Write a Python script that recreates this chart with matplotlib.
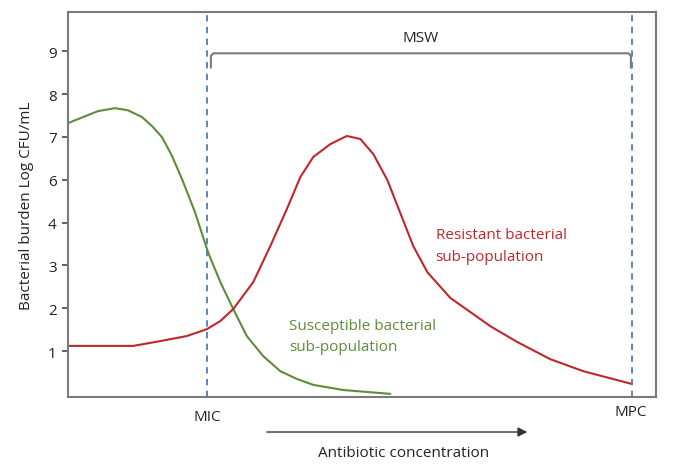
import matplotlib
matplotlib.use("Agg")
import matplotlib.pyplot as plt

# ---- data (x: relative antibiotic concentration 0-100, y: tick-position units) ----
green_x = [0, 2.9, 5.1, 8.0, 10.2, 12.6, 14.3, 16.0, 17.7, 19.4, 21.6, 23.8, 25.9, 28.1,
           30.4, 33.2, 36.1, 38.9, 41.7, 46.8, 54.8]
green_y = [6.32, 6.48, 6.60, 6.67, 6.62, 6.46, 6.25, 5.99, 5.55, 5.01, 4.24, 3.31, 2.61, 1.98,
           1.35, 0.88, 0.53, 0.35, 0.21, 0.09, 0.0]

red_x = [0, 11.1, 15.6, 20.2, 23.6, 25.9, 28.1, 31.5, 34.4, 37.2, 39.5, 41.7, 44.6, 47.4, 49.7,
         51.9, 54.3, 56.5, 58.7, 61.1, 65.0, 68.4, 71.8, 76.4, 82.0, 87.6, 95.9]
red_y = [1.12, 1.12, 1.23, 1.35, 1.51, 1.70, 1.98, 2.61, 3.45, 4.31, 5.06, 5.53, 5.83, 6.02, 5.95,
         5.60, 4.99, 4.22, 3.45, 2.84, 2.24, 1.91, 1.58, 1.21, 0.81, 0.53, 0.23]

ytick_pos = [1, 2, 3, 4, 5, 6, 7, 8]
ytick_labels = ['1', '2', '3', '4', '6', '7', '8', '9']

mic_x = 23.6
mpc_x = 95.9
bracket_left = 24.3
bracket_right = 95.7
bracket_top = 7.95
bracket_bottom = 7.62

RED = '#c0272d'
GREEN = '#5e8c3a'
BLUE = '#4a7ebb'
GRAY = '#7a7a7a'

plt.rcParams['font.family'] = ['Open Sans', 'DejaVu Sans']

fig = plt.figure(figsize=(6.73, 4.77), dpi=100)
ax = fig.add_axes([0.101, 0.1656, 0.874, 0.8074])

ax.plot(green_x, green_y, color=GREEN, lw=1.5, solid_joinstyle='round', solid_capstyle='round')
ax.plot(red_x, red_y, color=RED, lw=1.5, solid_joinstyle='round', solid_capstyle='round')

ax.axvline(mic_x, color=BLUE, lw=1.3, ls=(0, (3.5, 3)))
ax.axvline(mpc_x, color=BLUE, lw=1.3, ls=(0, (3.5, 3)))

# bracket
bx = [bracket_left, bracket_left, bracket_left + 0.4, bracket_right - 0.4, bracket_right, bracket_right]
by = [bracket_bottom, bracket_top - 0.06, bracket_top, bracket_top, bracket_top - 0.06, bracket_bottom]
ax.plot(bx, by, color='#7a7a7a', lw=1.5)
ax.text((bracket_left + bracket_right) / 2, 8.32, 'MSW', ha='center', va='center', fontsize=11, color='#222222')

ax.set_xlim(0, 100)
ax.set_ylim(-0.073, 8.917)
ax.set_xticks([])
ax.set_yticks(ytick_pos)
ax.set_yticklabels(ytick_labels, fontsize=11, color='#222222')
ax.tick_params(axis='y', length=4, width=1.2, color='#444444', direction='out', pad=4)
for s in ax.spines.values():
    s.set_color(GRAY)
    s.set_linewidth(1.5)

ax.set_ylabel('Bacterial burden Log CFU/mL', fontsize=11, color='#222222', labelpad=10)

ax.text(62.5, 3.47, 'Resistant bacterial\nsub-population', color=RED, fontsize=11,
        ha='left', va='center', linespacing=1.6)
ax.text(37.6, 1.35, 'Susceptible bacterial\nsub-population', color=GREEN, fontsize=11,
        ha='left', va='center', linespacing=1.6)

ax.text(mic_x, -0.52, 'MIC', ha='center', va='center', fontsize=11, color='#222222', clip_on=False)
ax.text(95.6, -0.42, 'MPC', ha='center', va='center', fontsize=11, color='#222222', clip_on=False)

ax.annotate('', xy=(78.1, -0.89), xytext=(33.8, -0.89), xycoords='data', annotation_clip=False,
            arrowprops=dict(arrowstyle='-|>', color='#333333', lw=1.0, mutation_scale=14,
                            shrinkA=0, shrinkB=0))
ax.text(57.0, -1.36, 'Antibiotic concentration', ha='center', va='center', fontsize=11,
        color='#222222', clip_on=False)

fig.savefig('out.png', dpi=100)
